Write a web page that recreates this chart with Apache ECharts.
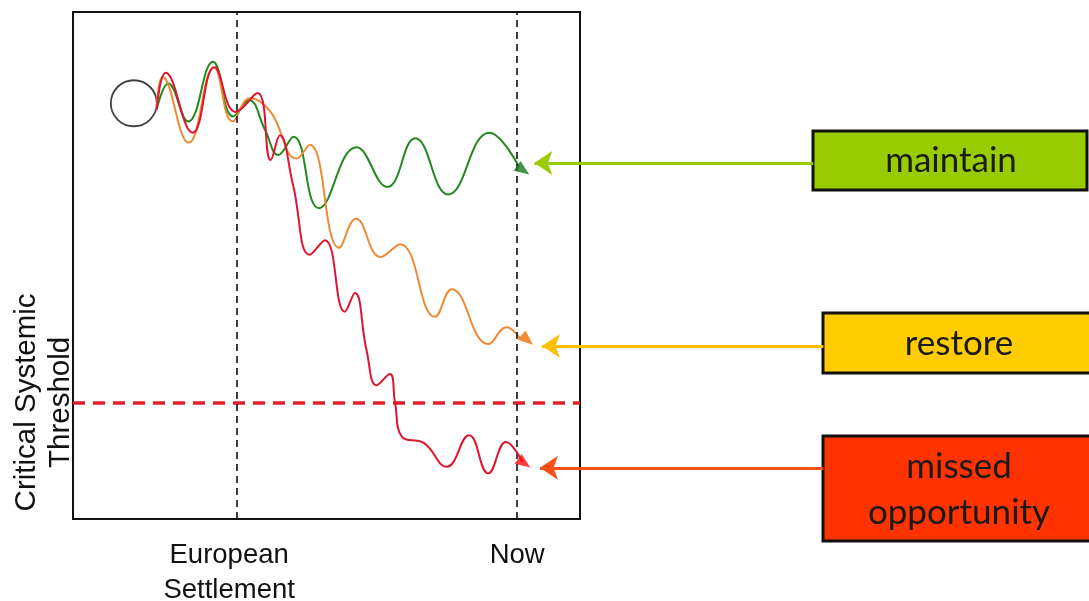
<!DOCTYPE html>
<html>
<head>
<meta charset="utf-8">
<script src="https://cdn.jsdelivr.net/npm/echarts@6/dist/echarts.min.js"></script>
<style>html,body{margin:0;padding:0;background:#fff}#c{width:1089px;height:601px}</style>
</head>
<body>
<div id="c"></div>
<script>
// ---- data (time 0..100, system state 0..100) ----
const xTickValues = [30.8, 87.6];
const xTickLabels = ['European\nSettlement', 'Now'];
const markerTimes = [32.3, 87.6];          // European Settlement, Now
const thresholdLevel = 23;
const thresholdLabel = 'Critical Systemic\nThreshold';
const startState = [12.0, 82.0];

const greenPts = [[16.5,80.7],[18.8,85.9],[22.7,78.4],[27.6,90.2],[31.6,79.4],[34.7,82.6],[37.9,76.7],[40.5,71.8],[43.5,75.4],[48.5,61.3],[55.9,73.3],[62.0,65.5],[67.5,75.1],[74.0,64.0],[82.1,76.2],[88.0,69.4]];
const orangePts = [[16.5,80.7],[17.7,87.2],[22.8,74.2],[27.8,89.1],[31.5,78.4],[34.9,83.0],[38.9,80.4],[44.1,71.1],[46.7,73.8],[52.5,53.5],[55.8,59.2],[60.7,51.7],[64.5,54.2],[71.4,39.9],[74.7,45.3],[81.9,34.5],[85.5,37.8],[88.2,35.6]];
const redPts = [[16.5,80.7],[18.3,88.0],[23.6,76.2],[27.9,89.1],[32.1,80.3],[36.4,84.0],[39.0,70.8],[40.8,75.7],[43.4,65.9],[46.7,52.1],[49.7,55.0],[53.6,40.9],[55.6,44.6],[57.9,33.3],[59.9,26.4],[62.5,28.6],[63.5,23.1],[64.9,16.2],[69.2,15.0],[73.7,10.3],[78.1,16.5],[81.9,9.0],[85.4,15.2],[88.6,11.3]];

const endHeads = [[88.8,68.8],[89.6,35.3],[89.0,11.0]];
const outcomeNames = ['maintain', 'restore', 'missed\nopportunity'];
const outcomeLevels = [70.2, 34.1, 10.1];
const arrowFrom = [146.0, 148.0, 148.0];
const arrowTo = [91.0, 92.5, 92.1];

// ---- styles ----
const curveColors = ['#21891f', '#ee8a35', '#de1530'];
const headColors = ['#17781a', '#f26d0f', '#ff0a0a'];
const headRot = [-125, -130, -125];
const arrowColors = ['#99cc00', '#ffc000', '#f4501c'];
const boxFill = ['#99cc00', '#ffcc00', '#ff3300'];

const chart = echarts.init(document.getElementById('c'), null, {renderer: 'canvas'});
const curveSeries = [greenPts, orangePts, redPts].map((pts, i) => ({
  type: 'line', data: pts, smooth: 0.45, symbol: 'none', z: 3 + i,
  lineStyle: {color: curveColors[i], width: 2}
}));

const option = {
  animation: false,
  grid: {left: 73, top: 12, width: 507, height: 507, show: true, borderColor: '#111', borderWidth: 2, outerBoundsMode: 'none', containLabel: false},
  xAxis: {type: 'value', min: 0, max: 100, axisLine: {show: false}, axisTick: {show: false}, splitLine: {show: false},
    axisLabel: {customValues: xTickValues, formatter: v => { const i = xTickValues.findIndex(t => Math.abs(t - v) < 1e-6); return i >= 0 ? xTickLabels[i] : ''; },
      fontFamily: 'Liberation Sans', fontSize: 27.5, lineHeight: 35, color: '#111', margin: 19, verticalAlign: 'top'}},
  yAxis: {type: 'value', min: 0, max: 100, axisLine: {show: false}, axisTick: {show: false}, splitLine: {show: false},
    axisLabel: {customValues: [thresholdLevel], formatter: () => thresholdLabel, rotate: 90,
      fontFamily: 'Liberation Sans', fontSize: 29.5, lineHeight: 34, color: '#111', margin: -5}},
  series: [
    {type: 'scatter', data: [startState], symbol: 'circle', symbolSize: 46, z: 2,
      itemStyle: {color: 'rgba(0,0,0,0)', borderColor: '#111', borderWidth: 1.8},
      markLine: {silent: true, symbol: ['none', 'none'], label: {show: false},
        data: [
          {yAxis: thresholdLevel, lineStyle: {color: '#e32029', width: 3.5, type: [12, 8]}},
          ...markerTimes.map(t => ({xAxis: t, lineStyle: {color: '#111', width: 1.6, type: [7, 5]}}))
        ]}},
    ...curveSeries,
    ...endHeads.map((p, i) => ({type: 'scatter', data: [p], symbol: 'triangle', symbolSize: [12, 15], symbolRotate: headRot[i], z: 8,
      itemStyle: {color: headColors[i]}})),
    {type: 'lines', coordinateSystem: 'cartesian2d', clip: false, z: 8,
      symbol: ['none', 'arrow'], symbolSize: 18,
      lineStyle: {opacity: 1, width: 3},
      data: outcomeLevels.map((lv, i) => ({coords: [[arrowFrom[i], lv], [arrowTo[i], lv]], lineStyle: {color: arrowColors[i], width: 3, opacity: 1}}))}
  ],
  graphic: [
    {type: 'rect', shape: {x: 813, y: 131, width: 274, height: 59}, style: {fill: boxFill[0], stroke: '#111', lineWidth: 3}},
    {type: 'rect', shape: {x: 823, y: 313, width: 280, height: 60}, style: {fill: boxFill[1], stroke: '#111', lineWidth: 3}},
    {type: 'rect', shape: {x: 823, y: 436, width: 280, height: 105}, style: {fill: boxFill[2], stroke: '#111', lineWidth: 3}},
    {type: 'text', x: 951, y: 161, style: {text: outcomeNames[0], font: '35px Lato', fill: '#1a1a1a', align: 'center', verticalAlign: 'middle'}},
    {type: 'text', x: 959, y: 344, style: {text: outcomeNames[1], font: '35px Lato', fill: '#1a1a1a', align: 'center', verticalAlign: 'middle'}},
    {type: 'text', x: 959, y: 490, style: {text: outcomeNames[2], font: '35px Lato', lineHeight: 46, fill: '#1a1a1a', align: 'center', verticalAlign: 'middle'}}
  ]
};
chart.setOption(option);
</script>
</body>
</html>
